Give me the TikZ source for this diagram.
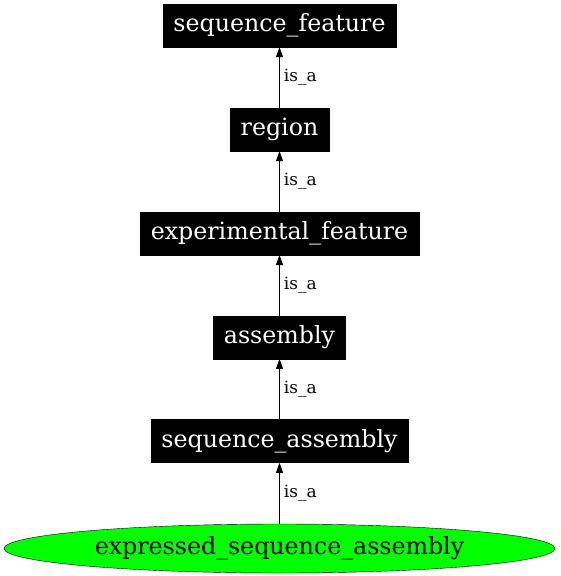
\documentclass[tikz,border=0pt]{standalone}
\usepackage{fontspec}
\setmainfont{DejaVu Serif}
\usetikzlibrary{arrows.meta,positioning,shapes.geometric}
\definecolor{tGreen}{RGB}{0,255,0}

\begin{document}
\begin{tikzpicture}[node distance=60.5pt,
  term/.style={fill=black,draw=black,text=white,font=\fontsize{23.7}{28}\selectfont,minimum height=43pt,inner xsep=10.5pt,inner ysep=0pt},
  leaf/.style={ellipse,fill=tGreen,draw=black,font=\fontsize{23.7}{28}\selectfont,minimum width=551pt,minimum height=49pt,inner sep=0pt},
  isa/.style={-{Triangle[length=10pt,width=7pt]},line width=0.9pt},
  lbl/.style={right,font=\fontsize{17}{20}\selectfont,inner xsep=4pt,inner ysep=0pt}]
\useasboundingbox (0,0) rectangle (560pt,-576pt);
\node[term] (feature) at (279.5pt,-25.5pt) {sequence\_feature};
\node[term,below=of feature] (region) {region};
\node[term,below=of region] (expfeature) {experimental\_feature};
\node[term,below=of expfeature] (assembly) {assembly};
\node[term,below=of assembly] (seqassembly) {sequence\_assembly};
\node[leaf,below=61pt of seqassembly] (expressed) {expressed\_sequence\_assembly};
\draw[isa] (region) -- node[lbl] {is\_a} (feature);
\draw[isa] (expfeature) -- node[lbl] {is\_a} (region);
\draw[isa] (assembly) -- node[lbl] {is\_a} (expfeature);
\draw[isa] (seqassembly) -- node[lbl] {is\_a} (assembly);
\draw[isa] (expressed) -- node[lbl] {is\_a} (seqassembly);
\end{tikzpicture}
\end{document}
